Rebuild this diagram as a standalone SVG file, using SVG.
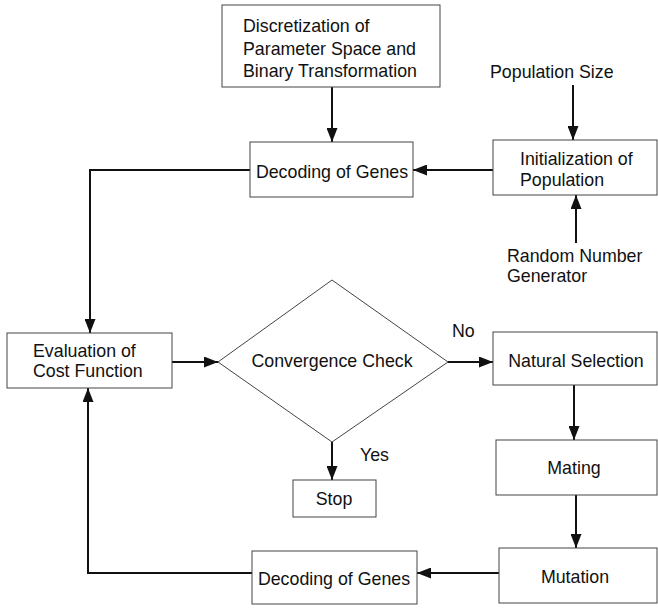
<svg xmlns="http://www.w3.org/2000/svg" width="658" height="608" viewBox="0 0 658 608">
<style>
.box{fill:#fff;stroke:#444;stroke-width:1}
.t{font-family:"Liberation Sans",Arial,sans-serif;font-size:17.8px;fill:#111}
.c{text-anchor:middle}
.ln{fill:none;stroke:#111;stroke-width:2}
</style>
<defs>
<marker id="ah" markerUnits="userSpaceOnUse" markerWidth="14" markerHeight="11" viewBox="0 0 14 11" refX="14" refY="5.5" orient="auto">
<path d="M0,0 L14,5.5 L0,11 z" fill="#111"/>
</marker>
</defs>
<rect width="658" height="608" fill="#fff"/>
<g id="connectors">
<line class="ln" x1="332" y1="87" x2="332" y2="142" marker-end="url(#ah)"/>
<line class="ln" x1="573" y1="85" x2="573" y2="140" marker-end="url(#ah)"/>
<line class="ln" x1="576" y1="243" x2="576" y2="195" marker-end="url(#ah)"/>
<line class="ln" x1="493" y1="170" x2="413" y2="170" marker-end="url(#ah)"/>
<polyline class="ln" points="250,170 90,170 90,333" marker-end="url(#ah)"/>
<line class="ln" x1="172" y1="362" x2="218" y2="362" marker-end="url(#ah)"/>
<line class="ln" x1="448" y1="362" x2="493" y2="362" marker-end="url(#ah)"/>
<line class="ln" x1="332" y1="442" x2="332" y2="480" marker-end="url(#ah)"/>
<line class="ln" x1="574" y1="385" x2="574" y2="440" marker-end="url(#ah)"/>
<line class="ln" x1="576" y1="495" x2="576" y2="548" marker-end="url(#ah)"/>
<line class="ln" x1="499" y1="573" x2="417" y2="573" marker-end="url(#ah)"/>
<polyline class="ln" points="252,573 88,573 88,388" marker-end="url(#ah)"/>
</g>
<g id="discretization">
<rect class="box" x="222" y="5" width="218" height="82"/>
<text class="t" x="243" y="32">Discretization of</text>
<text class="t" x="243" y="55">Parameter Space and</text>
<text class="t" x="243" y="77">Binary Transformation</text>
</g>
<g id="popsize"><text class="t" x="490" y="78">Population Size</text></g>
<g id="decoding1">
<rect class="box" x="250" y="142" width="163" height="55"/>
<text class="t c" x="332" y="178">Decoding of Genes</text>
</g>
<g id="init">
<rect class="box" x="493" y="140" width="164" height="55"/>
<text class="t" x="520" y="165">Initialization of</text>
<text class="t" x="520" y="186">Population</text>
</g>
<g id="rng">
<text class="t" x="507" y="262">Random Number</text>
<text class="t" x="507" y="282">Generator</text>
</g>
<g id="evaluation">
<rect class="box" x="7" y="333" width="165" height="55"/>
<text class="t" x="33" y="357">Evaluation of</text>
<text class="t" x="33" y="377">Cost Function</text>
</g>
<g id="convergence">
<polygon points="332,280 448,362 332,442 218,362" fill="#fff" stroke="#444" stroke-width="1"/>
<text class="t c" x="332" y="367">Convergence Check</text>
</g>
<g id="no"><text class="t" x="452" y="337">No</text></g>
<g id="yes"><text class="t" x="360" y="461">Yes</text></g>
<g id="selection">
<rect class="box" x="493" y="332" width="164" height="53"/>
<text class="t c" x="576" y="367">Natural Selection</text>
</g>
<g id="stop">
<rect class="box" x="293" y="480" width="83" height="37"/>
<text class="t c" x="334" y="505">Stop</text>
</g>
<g id="mating">
<rect class="box" x="496" y="440" width="161" height="55"/>
<text class="t c" x="574" y="474">Mating</text>
</g>
<g id="mutation">
<rect class="box" x="499" y="548" width="158" height="55"/>
<text class="t c" x="575" y="583">Mutation</text>
</g>
<g id="decoding2">
<rect class="box" x="252" y="551" width="165" height="53"/>
<text class="t c" x="334" y="585">Decoding of Genes</text>
</g>
</svg>
